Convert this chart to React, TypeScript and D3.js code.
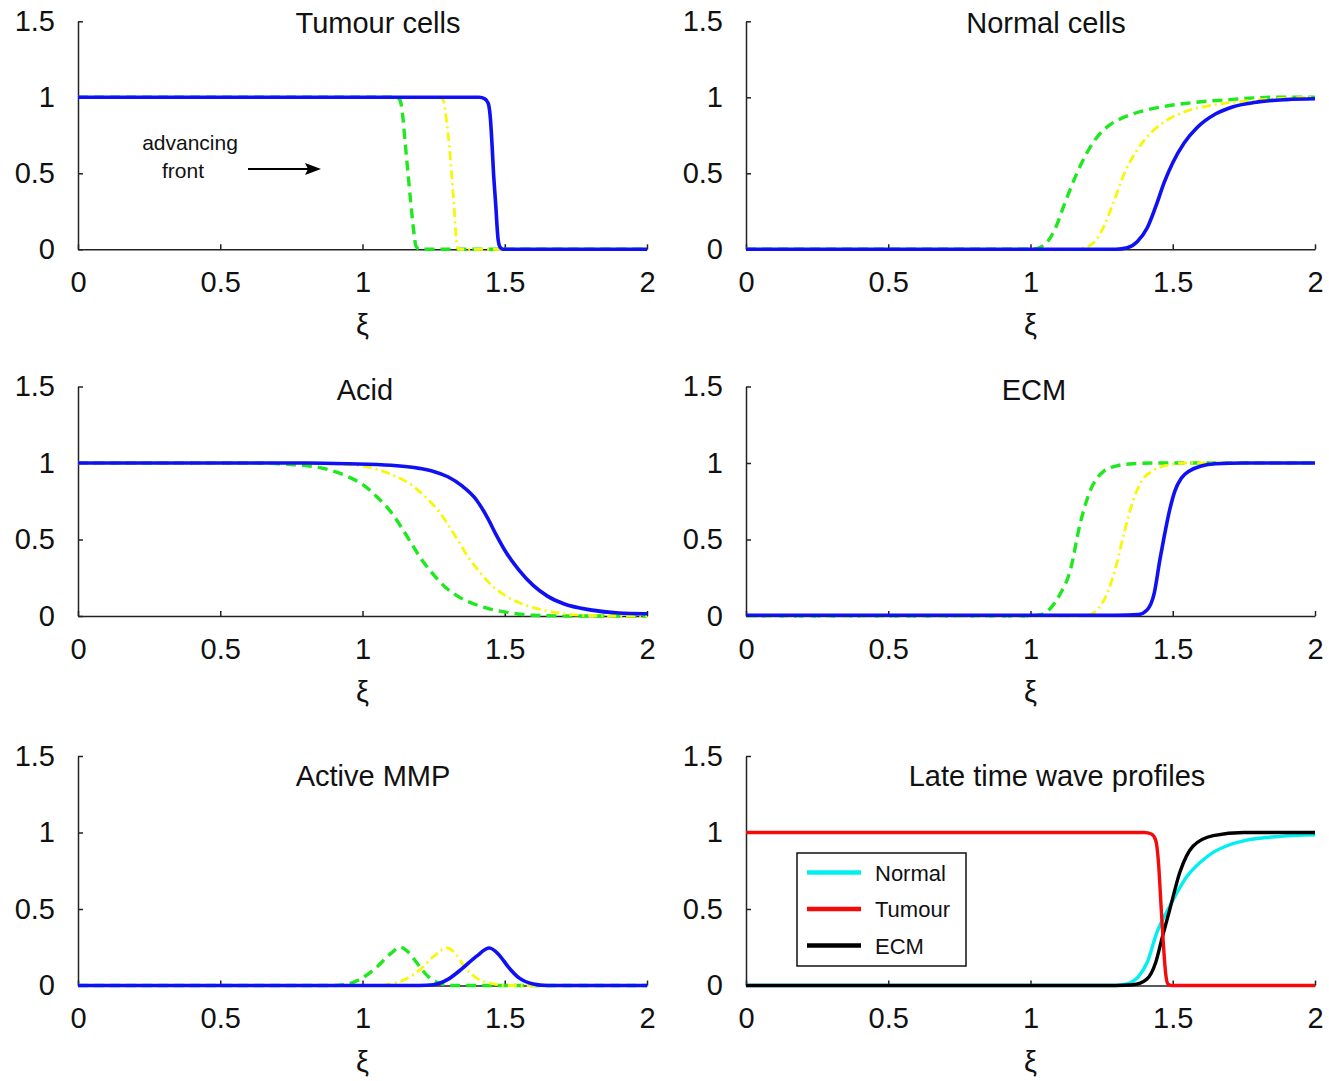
import { useRef, useEffect } from 'react';
import * as d3 from 'd3';

const xTicks = [0, 0.5, 1, 1.5, 2];
const yTicks = [0, 0.5, 1, 1.5];
const xLabel = 'ξ';

const panelTitles = ['Tumour cells', 'Normal cells', 'Acid', 'ECM', 'Active MMP', 'Late time wave profiles'];
const legendLabels = ['Normal', 'Tumour', 'ECM'];
const annotationLines = ['advancing', 'front'];

// [xi, value] pairs; early = green dashed, mid = yellow dash-dot, late = blue
const tumourEarly = [[0, 1], [1.12, 1], [1.132, 0.98], [1.14, 0.9], [1.15, 0.7], [1.16, 0.5], [1.17, 0.3], [1.18, 0.12], [1.188, 0.02], [1.2, 0], [2, 0]];
const tumourMid = [[0, 1], [1.27, 1], [1.284, 0.98], [1.295, 0.85], [1.305, 0.68], [1.313, 0.5], [1.322, 0.28], [1.33, 0.06], [1.338, 0], [2, 0]];
const tumourLate = [[0, 1], [1.41, 1], [1.43, 0.99], [1.442, 0.96], [1.45, 0.85], [1.455, 0.7], [1.46, 0.52], [1.468, 0.3], [1.477, 0.06], [1.485, 0.01], [1.495, 0], [2, 0]];

const normalEarly = [[0, 0], [1.0, 0], [1.03, 0.01], [1.06, 0.05], [1.09, 0.15], [1.12, 0.3], [1.163, 0.5], [1.2, 0.64], [1.239, 0.75], [1.28, 0.82], [1.33, 0.87], [1.375, 0.9], [1.47, 0.94], [1.57, 0.965], [1.7, 0.985], [1.85, 1.0], [2, 1.0]];
const normalMid = [[0, 0], [1.15, 0], [1.19, 0.01], [1.23, 0.06], [1.26, 0.16], [1.29, 0.3], [1.33, 0.5], [1.37, 0.64], [1.41, 0.74], [1.48, 0.85], [1.55, 0.91], [1.63, 0.945], [1.75, 0.975], [1.9, 0.995], [2, 1.0]];
const normalLate = [[0, 0], [1.3, 0], [1.34, 0.01], [1.375, 0.05], [1.41, 0.14], [1.44, 0.28], [1.47, 0.44], [1.5, 0.57], [1.54, 0.7], [1.585, 0.8], [1.65, 0.89], [1.707, 0.935], [1.8, 0.97], [1.9, 0.985], [2, 0.99]];

const acidEarly = [[0, 1], [0.6, 1], [0.75, 0.99], [0.873, 0.96], [0.95, 0.91], [1.0, 0.86], [1.05, 0.78], [1.1, 0.68], [1.14, 0.57], [1.17, 0.48], [1.2, 0.39], [1.245, 0.28], [1.29, 0.19], [1.334, 0.13], [1.39, 0.08], [1.44, 0.05], [1.52, 0.02], [1.6, 0.005], [1.75, 0], [2, 0]];
const acidMid = [[0, 1], [0.8, 1], [0.95, 0.99], [1.05, 0.96], [1.12, 0.91], [1.17, 0.86], [1.22, 0.78], [1.27, 0.68], [1.31, 0.57], [1.34, 0.48], [1.37, 0.39], [1.415, 0.28], [1.46, 0.19], [1.505, 0.13], [1.56, 0.08], [1.61, 0.05], [1.69, 0.02], [1.77, 0.005], [1.9, 0], [2, 0]];
const acidLate = [[0, 1], [0.8, 1], [0.95, 0.995], [1.1, 0.985], [1.2, 0.965], [1.25, 0.945], [1.3, 0.91], [1.35, 0.85], [1.4, 0.76], [1.44, 0.64], [1.47, 0.53], [1.5, 0.43], [1.55, 0.3], [1.6, 0.2], [1.65, 0.13], [1.707, 0.08], [1.8, 0.04], [1.9, 0.02], [2, 0.015]];

const ecmEarly = [[0, 0], [1.0, 0], [1.04, 0.01], [1.07, 0.05], [1.1, 0.13], [1.14, 0.3], [1.174, 0.6], [1.21, 0.82], [1.26, 0.95], [1.3, 0.98], [1.36, 0.995], [1.45, 1], [2, 1]];
const ecmMid = [[0, 0], [1.18, 0], [1.21, 0.01], [1.24, 0.05], [1.27, 0.15], [1.3, 0.32], [1.33, 0.55], [1.36, 0.75], [1.39, 0.88], [1.43, 0.95], [1.48, 0.985], [1.55, 1], [2, 1]];
const ecmLate = [[0, 0.005], [1.3, 0.005], [1.38, 0.01], [1.41, 0.04], [1.435, 0.15], [1.455, 0.37], [1.47, 0.52], [1.49, 0.7], [1.508, 0.82], [1.53, 0.9], [1.56, 0.95], [1.6, 0.98], [1.65, 0.995], [1.75, 1], [2, 1]];

const mmpEarly = [[0, 0], [0.9, 0], [0.95, 0.01], [1.0, 0.05], [1.05, 0.12], [1.1, 0.21], [1.133, 0.25], [1.16, 0.22], [1.19, 0.15], [1.23, 0.06], [1.27, 0.015], [1.32, 0], [2, 0]];
const mmpMid = [[0, 0], [1.05, 0], [1.1, 0.01], [1.15, 0.04], [1.2, 0.1], [1.25, 0.19], [1.297, 0.245], [1.33, 0.2], [1.36, 0.12], [1.4, 0.05], [1.45, 0.015], [1.5, 0], [2, 0]];
const mmpLate = [[0, 0], [1.2, 0], [1.25, 0.005], [1.3, 0.04], [1.35, 0.11], [1.4, 0.19], [1.446, 0.245], [1.48, 0.2], [1.513, 0.12], [1.55, 0.05], [1.6, 0.01], [1.65, 0], [2, 0]];

// late time wave profiles
const lateNormal = [[0, 0], [1.3, 0], [1.338, 0.01], [1.38, 0.06], [1.41, 0.15], [1.444, 0.345], [1.49, 0.52], [1.549, 0.71], [1.6, 0.81], [1.642, 0.87], [1.7, 0.92], [1.76, 0.95], [1.88, 0.975], [2, 0.985]];
const lateTumour = [[0, 1], [1.4, 1], [1.425, 0.99], [1.44, 0.95], [1.45, 0.8], [1.458, 0.55], [1.466, 0.3], [1.475, 0.08], [1.483, 0.01], [1.495, 0], [2, 0]];
const lateEcm = [[0, 0], [1.3, 0], [1.36, 0.005], [1.408, 0.04], [1.44, 0.15], [1.461, 0.3], [1.49, 0.5], [1.525, 0.74], [1.571, 0.91], [1.642, 0.98], [1.75, 1.0], [2, 1.0]];

const FONT = '"Liberation Sans", Arial, Helvetica, sans-serif';
const STYLE = {
  early: { color: '#1ee81e', dash: '10 6', width: 3.4 },
  mid: { color: '#f7f70a', dash: '9 4 2 4', width: 2.8 },
  late: { color: '#1010f5', dash: null, width: 3.6 },
  normal: { color: '#00f0f0', dash: null, width: 3.4 },
  tumour: { color: '#f50a0a', dash: null, width: 3.4 },
  ecm: { color: '#000000', dash: null, width: 3.4 },
};

const COLS = [{ left: 78, right: 647 }, { left: 746, right: 1315 }];
const ROWS = [{ bottom: 249.3, top: 21.3 }, { bottom: 616, top: 386.5 }, { bottom: 985.5, top: 756 }];
const TITLE_POS = [[378, 33], [1046, 33], [365, 400], [1034, 400], [373, 786], [1057, 786]];

const App = () => {
  const svgRef = useRef(null);

  useEffect(() => {
    const svg = d3.select(svgRef.current);
    svg.selectAll('*').remove();

    const panels = [
      [[tumourEarly, 'early'], [tumourMid, 'mid'], [tumourLate, 'late']],
      [[normalEarly, 'early'], [normalMid, 'mid'], [normalLate, 'late']],
      [[acidEarly, 'early'], [acidMid, 'mid'], [acidLate, 'late']],
      [[ecmEarly, 'early'], [ecmMid, 'mid'], [ecmLate, 'late']],
      [[mmpEarly, 'early'], [mmpMid, 'mid'], [mmpLate, 'late']],
      [[lateNormal, 'normal'], [lateEcm, 'ecm'], [lateTumour, 'tumour']],
    ];

    panels.forEach((series, i) => {
      const col = COLS[i % 2];
      const row = ROWS[Math.floor(i / 2)];
      const xScale = d3.scaleLinear().domain([0, 2]).range([col.left, col.right]);
      const yScale = d3.scaleLinear().domain([0, 1.5]).range([row.bottom, row.top]);
      const g = svg.append('g');

      const xAxis = g.append('g')
        .attr('transform', `translate(0, ${row.bottom})`)
        .call(d3.axisBottom(xScale).tickValues(xTicks).tickSizeInner(-5).tickSizeOuter(0).tickPadding(22).tickFormat(d => String(d)));
      const yAxis = g.append('g')
        .attr('transform', `translate(${col.left}, 0)`)
        .call(d3.axisLeft(yScale).tickValues(yTicks).tickSizeInner(-5).tickSizeOuter(0).tickPadding(23).tickFormat(d => String(d)));

      [xAxis, yAxis].forEach(ax => {
        ax.attr('font-family', FONT).attr('font-size', 29);
        ax.selectAll('.domain').attr('stroke', '#222').attr('stroke-width', 1.5);
        ax.selectAll('.tick line').attr('stroke', '#222').attr('stroke-width', 1.5);
        ax.selectAll('.tick text').attr('fill', '#111');
      });

      const line = d3.line()
        .x(d => xScale(d[0]))
        .y(d => yScale(d[1]))
        .curve(d3.curveMonotoneX);

      series.forEach(([data, key]) => {
        const s = STYLE[key];
        g.append('path')
          .attr('d', line(data))
          .attr('fill', 'none')
          .attr('stroke', s.color)
          .attr('stroke-width', s.width)
          .attr('stroke-dasharray', s.dash)
          .attr('stroke-linejoin', 'round');
      });

      g.append('text')
        .attr('x', TITLE_POS[i][0])
        .attr('y', TITLE_POS[i][1])
        .attr('text-anchor', 'middle')
        .attr('font-family', FONT)
        .attr('font-size', 29)
        .attr('fill', '#111')
        .text(panelTitles[i]);

      g.append('text')
        .attr('x', xScale(1))
        .attr('y', row.bottom + 86)
        .attr('text-anchor', 'middle')
        .attr('font-family', FONT)
        .attr('font-size', 29)
        .attr('fill', '#111')
        .text(xLabel);
    });

    // "advancing front" note and arrow in first panel
    annotationLines.forEach((t, k) => {
      svg.append('text')
        .attr('x', 190 - k * 7)
        .attr('y', 150 + k * 28)
        .attr('text-anchor', 'middle')
        .attr('font-family', FONT)
        .attr('font-size', 21)
        .attr('fill', '#111')
        .text(t);
    });
    svg.append('line')
      .attr('x1', 248).attr('y1', 169).attr('x2', 310).attr('y2', 169)
      .attr('stroke', '#000').attr('stroke-width', 2);
    svg.append('path')
      .attr('d', 'M321,169 L305,163 L308,169 L305,175 Z')
      .attr('fill', '#000');

    // legend of last panel
    const legendColors = [STYLE.normal.color, STYLE.tumour.color, STYLE.ecm.color];
    const lg = svg.append('g');
    lg.append('rect')
      .attr('x', 797).attr('y', 853).attr('width', 169).attr('height', 113)
      .attr('fill', '#fff').attr('stroke', '#111').attr('stroke-width', 1.5);
    legendLabels.forEach((label, k) => {
      const cy = 872.5 + k * 36.5;
      lg.append('line')
        .attr('x1', 807).attr('x2', 861).attr('y1', cy).attr('y2', cy)
        .attr('stroke', legendColors[k]).attr('stroke-width', 4.5);
      lg.append('text')
        .attr('x', 875).attr('y', cy + 8)
        .attr('font-family', FONT).attr('font-size', 22)
        .attr('fill', '#111')
        .text(label);
    });
  }, []);

  return (
    <svg
      ref={svgRef}
      width={1329}
      height={1081}
      style={{ position: 'absolute', left: 0, top: 0, background: '#fff' }}
    />
  );
};

export default App;
